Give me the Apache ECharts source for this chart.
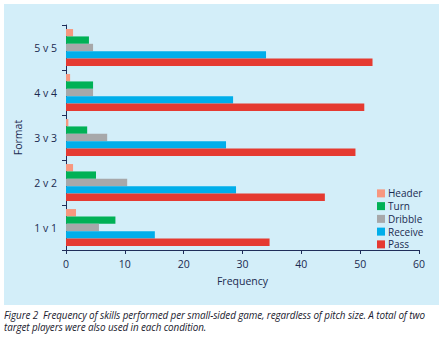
<!DOCTYPE html>
<html><head><meta charset="utf-8">
<script src="https://cdn.jsdelivr.net/npm/echarts@6/dist/echarts.min.js"></script>
<style>
html,body{margin:0;padding:0;background:#fff;width:443px;height:342px;overflow:hidden}
#panel{position:absolute;left:4px;top:4px;width:435px;height:301px;background:#D3EEF9}
#chart{position:absolute;left:0;top:0;width:443px;height:305px}
#cap{position:absolute;left:4px;top:309px;width:436px;font-family:"Open Sans",sans-serif;font-style:italic;font-size:9.9px;line-height:12px;color:#1a1a2e;letter-spacing:-0.1px}
</style></head><body>
<div id="panel"></div>
<div id="chart"></div>
<div id="cap">Figure 2&nbsp; Frequency of skills performed per small-sided game, regardless of pitch size. A total of two target players were also used in each condition.</div>
<script>
const categories = ['1 v 1','2 v 2','3 v 3','4 v 4','5 v 5'];
const header  = [1.7, 1.2, 0.4, 0.7, 1.2];
const turn    = [8.4, 5.1, 3.6, 4.6, 3.9];
const dribble = [5.6, 10.4, 7.0, 4.6, 4.6];
const receive = [15.1, 28.9, 27.2, 28.4, 34.0];
const pass    = [34.6, 44.0, 49.2, 50.7, 52.1];
const xTicks = [0, 10, 20, 30, 40, 50, 60];

const axisCol = '#1F2D5A';
const font = '"Open Sans", sans-serif';
const chart = echarts.init(document.getElementById('chart'), null, {renderer:'svg'});
function s(name, data, color){
  return {name, type:'bar', data, barGap:'0%', barCategoryGap:'18%', itemStyle:{color}};
}
chart.setOption({
  animation:false,
  grid:{left:66, right:24, top:25, bottom:55, containLabel:false},
  legend:{orient:'vertical', left:372, top:182, itemWidth:8, itemHeight:8, itemGap:0,
    icon:'rect', data:['Header','Turn','Dribble','Receive','Pass'],
    textStyle:{fontFamily:font, fontSize:10, color:'#1a2a50', lineHeight:12.75, padding:[0,0,0,-2]}},
  xAxis:{type:'value', min:xTicks[0], max:xTicks[xTicks.length-1], interval:10,
    name:'Frequency', nameLocation:'middle', nameGap:25,
    nameTextStyle:{fontFamily:font, fontSize:10.5, color:'#1a2a50'},
    axisLine:{show:true, lineStyle:{color:axisCol, width:1}},
    axisTick:{show:true, length:4, lineStyle:{color:axisCol}},
    axisLabel:{fontFamily:font, fontSize:10.5, color:'#1a2a50', margin:8},
    splitLine:{show:false}},
  yAxis:{type:'category', data:categories,
    name:'Format', nameLocation:'middle', nameGap:42, nameRotate:90,
    nameTextStyle:{fontFamily:font, fontSize:10.5, color:'#1a2a50'},
    axisLine:{show:true, lineStyle:{color:axisCol, width:1}},
    axisTick:{show:true, length:4, lineStyle:{color:axisCol}},
    axisLabel:{fontFamily:font, fontSize:10.5, color:'#1a2a50', margin:9}},
  series:[
    s('Header', header, '#F7977F'),
    s('Turn', turn, '#00B156'),
    s('Dribble', dribble, '#A7A8AA'),
    s('Receive', receive, '#00AEEA'),
    s('Pass', pass, '#E53A31')
  ]
});
</script>
</body></html>
